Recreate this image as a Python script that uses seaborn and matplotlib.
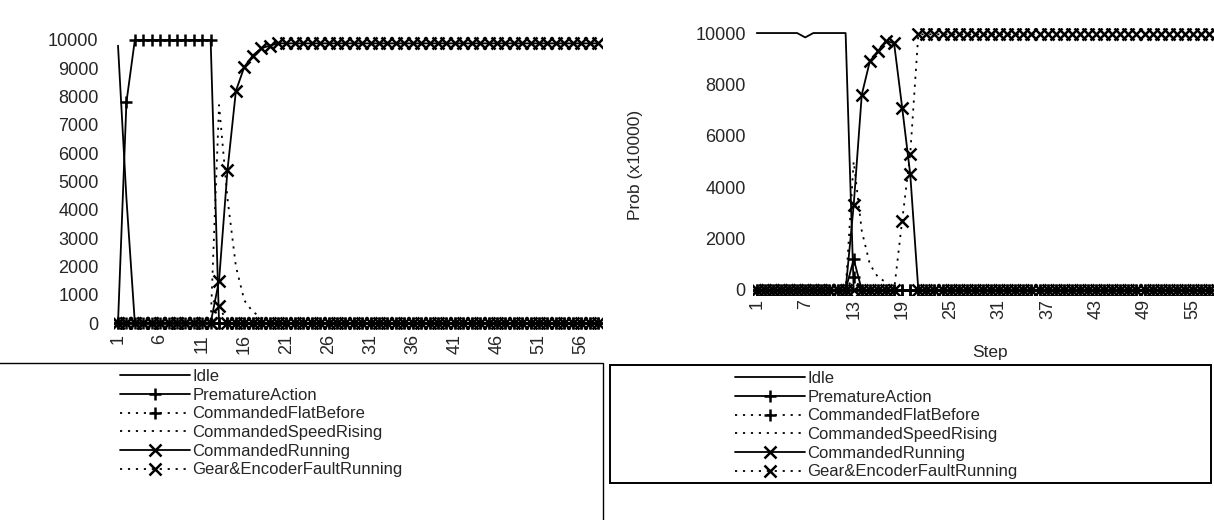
import matplotlib
matplotlib.use("Agg")
import matplotlib.pyplot as plt
import seaborn as sns
from matplotlib.patches import Rectangle

# ---- data (probability x 10000 per step) ----
steps = list(range(1, 59))

# left panel
idle_l = [9800, 4400] + [0] * 56
premature_l = [0, 7800] + [10000] * 10 + [0] * 46
flat_before_l = [0] * 58
speed_rising_l = [0] * 12 + [7700, 4400, 2000, 800, 400, 200] + [0] * 40
running_l = [0] * 12 + [1500, 5400, 8200, 9050, 9450, 9700, 9800] + [9880] * 39
gear_fault_l = [0] * 12 + [600] + [0] * 45

# right panel
idle_r = [10000] * 6 + [9830] + [10000] * 5 + [0] * 46
premature_r = [0] * 12 + [1200] + [0] * 45
flat_before_r = [0] * 12 + [500] + [0] * 45
speed_rising_r = [0] * 12 + [5000, 2300, 1000, 500, 300] + [0] * 41
running_r = [0] * 12 + [3300, 7600, 8900, 9300, 9700, 9600, 7100, 4500] + [0] * 38
gear_fault_r = [0] * 18 + [2700, 5300] + [9950] * 38

names = ["Idle", "PrematureAction", "CommandedFlatBefore",
         "CommandedSpeedRising", "CommandedRunning", "Gear&EncoderFaultRunning"]

dotted = (0, (1.2, 3.2))
line_styles = {
    "Idle": dict(linestyle="-"),
    "PrematureAction": dict(linestyle="-", marker="+"),
    "CommandedFlatBefore": dict(linestyle=dotted, marker="+"),
    "CommandedSpeedRising": dict(linestyle=dotted),
    "CommandedRunning": dict(linestyle="-", marker="x"),
    "Gear&EncoderFaultRunning": dict(linestyle=dotted, marker="x"),
}

sns.set_style("white")
plt.rcParams["font.family"] = ["Liberation Sans", "DejaVu Sans"]
plt.rcParams["font.size"] = 12

W, H = 1214, 520
fig = plt.figure(figsize=(W / 100, H / 100), dpi=100)


def px_axes(x0, y_top, x1, y_bot):
    return fig.add_axes([x0 / W, 1 - y_bot / H, (x1 - x0) / W, (y_bot - y_top) / H])


ax_l = px_axes(113.8, 34.3, 602.2, 328.7)
ax_r = px_axes(752.7, 27.9, 1221.3, 295.1)

panels = [
    (ax_l, [idle_l, premature_l, flat_before_l, speed_rising_l, running_l, gear_fault_l]),
    (ax_r, [idle_r, premature_r, flat_before_r, speed_rising_r, running_r, gear_fault_r]),
]

for ax, series in panels:
    for name, vals in zip(names, series):
        sns.lineplot(x=steps, y=vals, ax=ax, color="black", linewidth=1.3,
                     markersize=8, markeredgewidth=1.8, markeredgecolor="black",
                     markerfacecolor="black", label=name, **line_styles[name])
    ax.get_legend().remove()
    ax.set_xlim(0.5, 58.5)
    ax.set_ylim(-200, 10200)
    sns.despine(ax=ax, left=True, bottom=True)
    ax.tick_params(length=0, labelsize=13)

ax_l.set_xticks(range(1, 59, 5))
ax_l.set_yticks(range(0, 10001, 1000))
ax_l.tick_params(axis="y", pad=11)
ax_l.tick_params(axis="x", pad=4, labelrotation=90)

ax_r.set_xticks(range(1, 58, 6))
ax_r.set_yticks(range(0, 10001, 2000))
ax_r.tick_params(axis="y", pad=5)
ax_r.tick_params(axis="x", pad=3, labelrotation=90)
ax_r.set_ylabel("Prob (x10000)", fontsize=12.5)
ax_r.yaxis.set_label_coords(-0.234, 0.487)

fig.text(990 / W, 1 - 352 / H, "Step", ha="center", va="center", fontsize=12.5)

# legends with their boxes
handles, labels = ax_l.get_legend_handles_labels()
for x_handle, y_top in [(120, 369), (735, 371)]:
    fig.legend(handles, labels, loc="upper left",
               bbox_to_anchor=(x_handle / W, 1 - y_top / H),
               bbox_transform=fig.transFigure, frameon=False, fontsize=12,
               handlelength=4.2, handletextpad=0.15, labelspacing=0.22,
               borderpad=0, borderaxespad=0)

fig.add_artist(Rectangle((-10 / W, -0.1), 613 / W, 0.1 + 1 - 363 / H,
                         transform=fig.transFigure, fill=False, lw=1.0, color="black"))
fig.add_artist(Rectangle((610 / W, 1 - 483 / H), 601 / W, (483 - 365) / H,
                         transform=fig.transFigure, fill=False, lw=1.4, color="black"))

fig.savefig("out.png", dpi=100)
